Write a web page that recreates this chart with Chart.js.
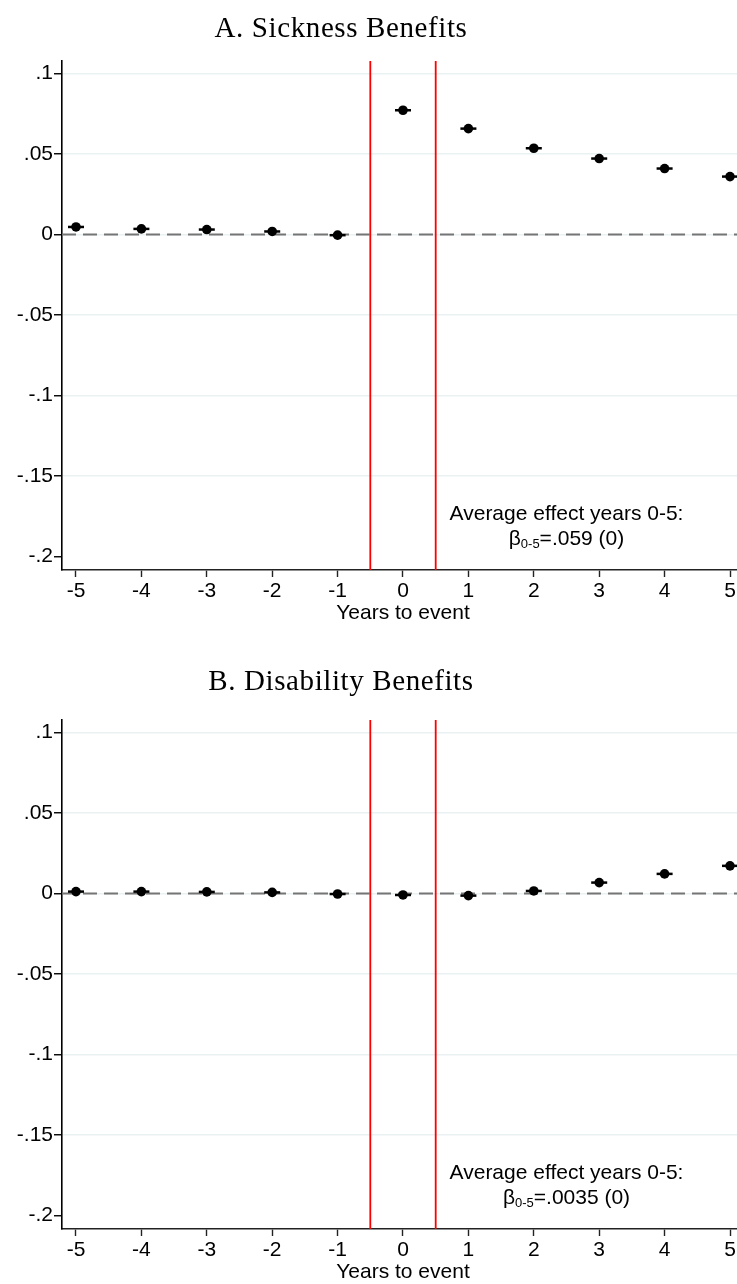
<!DOCTYPE html>
<html>
<head>
<meta charset="utf-8">
<script src="https://cdn.jsdelivr.net/npm/chart.js@4.4.1/dist/chart.umd.min.js"></script>
<style>
  html, body { margin: 0; padding: 0; background: #fff; overflow: hidden; }
  .panel { position: absolute; left: 0; width: 737px; height: 642px; }
  #panelA { top: 0; }
  #panelB { top: 659px; }
</style>
</head>
<body>
<div class="panel" id="panelA"><canvas id="chartA" width="737" height="642"></canvas></div>
<div class="panel" id="panelB"><canvas id="chartB" width="737" height="642"></canvas></div>
<script>
// Anos relativos ao evento
const years = [-5, -4, -3, -2, -1, 0, 1, 2, 3, 4, 5];

// Coeficientes estimados por ano
const sickness = [0.0047, 0.0035, 0.0031, 0.0019, -0.0004, 0.0772, 0.0658, 0.0536, 0.0472, 0.0410, 0.0360];
const disability = [0.0012, 0.0012, 0.0010, 0.0007, -0.0003, -0.0009, -0.0013, 0.0016, 0.0068, 0.0122, 0.0172];

// Eixo y
const yTicks = [0.1, 0.05, 0, -0.05, -0.1, -0.15, -0.2];
const yTickLabels = ['.1', '.05', '0', '-.05', '-.1', '-.15', '-.2'];

// Linhas verticais da janela do evento
const eventWindow = [-0.5, 0.5];

// Efeito medio anos 0-5
const avgEffect = ['.059', '.0035'];
const avgSe = ['0', '0'];

const SANS = "'Liberation Sans', Arial, sans-serif";
const SERIF = "'Liberation Serif', 'Times New Roman', serif";

// Desenha linhas de referencia, titulo e anotacao
const overlay = {
    id: 'overlay',
    beforeDatasetsDraw(chart, args, opts) {
        const { ctx, chartArea: a, scales: { x, y } } = chart;
        ctx.save();
        ctx.strokeStyle = '#ff0000';
        ctx.lineWidth = 1.8;
        eventWindow.forEach(v => {
            const px = x.getPixelForValue(v);
            ctx.beginPath();
            ctx.moveTo(px, a.top);
            ctx.lineTo(px, a.bottom);
            ctx.stroke();
        });
        const py = y.getPixelForValue(0);
        ctx.strokeStyle = '#757575';
        ctx.lineWidth = 2;
        ctx.setLineDash([14, 7]);
        ctx.beginPath();
        ctx.moveTo(a.left, py);
        ctx.lineTo(a.right, py);
        ctx.stroke();
        ctx.restore();
    },
    afterDraw(chart, args, opts) {
        const { ctx, chartArea: a, scales: { x, y } } = chart;
        ctx.save();
        ctx.fillStyle = '#000';

        // titulo
        ctx.font = '29px ' + SERIF;
        ctx.letterSpacing = '0.6px';
        ctx.textAlign = 'center';
        ctx.textBaseline = 'alphabetic';
        ctx.fillText(opts.title, 341, opts.titleBaseline);
        ctx.letterSpacing = '0px';

        // titulo do eixo x
        ctx.font = '21px ' + SANS;
        ctx.textBaseline = 'middle';
        ctx.fillText('Years to event', x.getPixelForValue(0), 613);

        // anotacao do efeito medio
        const cx = x.getPixelForValue(2.5);
        const cy = y.getPixelForValue(-0.174);
        ctx.fillText('Average effect years 0-5:', cx, cy);

        const rest = '=' + opts.coef + ' (' + opts.se + ')';
        ctx.font = '21px ' + SANS;
        const wB = ctx.measureText('\u03B2').width;
        const wRest = ctx.measureText(rest).width;
        ctx.font = '13px ' + SANS;
        const wSub = ctx.measureText('0-5').width;
        let sx = cx - (wB + wSub + wRest) / 2;
        const base = cy + 23 + 7;
        ctx.textAlign = 'left';
        ctx.textBaseline = 'alphabetic';
        ctx.font = '21px ' + SANS;
        ctx.fillText('\u03B2', sx, base);
        sx += wB;
        ctx.font = '13px ' + SANS;
        ctx.fillText('0-5', sx, base + 3);
        sx += wSub;
        ctx.font = '21px ' + SANS;
        ctx.fillText(rest, sx, base);
        ctx.restore();
    }
};

function buildChart(canvasId, values, title, titleBaseline, coef, se) {
    const points = years.map((yr, i) => ({ x: yr, y: values[i] }));
    return new Chart(document.getElementById(canvasId).getContext('2d'), {
        type: 'scatter',
        data: {
            datasets: [
                {
                    // barras do intervalo de confianca (muito estreito)
                    data: points,
                    pointStyle: 'line',
                    pointRadius: 8,
                    borderColor: '#000',
                    borderWidth: 2.5,
                    showLine: false,
                    clip: false
                },
                {
                    data: points,
                    pointStyle: 'circle',
                    pointRadius: 4.8,
                    backgroundColor: '#000',
                    borderColor: '#000',
                    borderWidth: 0,
                    showLine: false,
                    clip: false
                }
            ]
        },
        options: {
            responsive: false,
            animation: false,
            events: [],
            layout: { autoPadding: false, padding: { top: 61, right: 0, left: 0, bottom: 0 } },
            plugins: {
                legend: { display: false },
                tooltip: { enabled: false },
                overlay: { title: title, titleBaseline: titleBaseline, coef: coef, se: se }
            },
            scales: {
                x: {
                    type: 'linear',
                    min: -5.214,
                    max: 5.107,
                    afterBuildTicks: s => { s.ticks = years.map(v => ({ value: v })); },
                    afterFit: s => { s.height = 72; s.paddingLeft = 0; s.paddingRight = 0; },
                    border: { display: true, color: '#222', width: 1.6 },
                    grid: { drawOnChartArea: false, drawTicks: true, tickLength: 7, tickColor: '#222', tickWidth: 1.4 },
                    ticks: {
                        color: '#000',
                        padding: 2,
                        maxRotation: 0,
                        font: { family: SANS, size: 21 },
                        callback: v => String(v)
                    }
                },
                y: {
                    min: -0.2084,
                    max: 0.1078,
                    afterBuildTicks: s => { s.ticks = yTicks.map(v => ({ value: v })); },
                    afterFit: s => { s.width = 62; s.paddingTop = 0; s.paddingBottom = 0; },
                    border: { display: true, color: '#000', width: 1.6 },
                    grid: {
                        drawTicks: true,
                        tickLength: 8,
                        tickColor: '#000',
                        tickWidth: 1.4,
                        lineWidth: 1.5,
                        color: c => (c.tick && c.tick.value === -0.2) ? 'rgba(0,0,0,0)' : '#eaf1f3'
                    },
                    ticks: {
                        color: '#000',
                        padding: 1,
                        font: { family: SANS, size: 21 },
                        callback: v => {
                            const i = yTicks.indexOf(v);
                            return i >= 0 ? yTickLabels[i] : '';
                        }
                    }
                }
            }
        },
        plugins: [overlay]
    });
}

buildChart('chartA', sickness, 'A. Sickness Benefits', 37, avgEffect[0], avgSe[0]);
buildChart('chartB', disability, 'B. Disability Benefits', 31, avgEffect[1], avgSe[1]);
</script>
</body>
</html>
